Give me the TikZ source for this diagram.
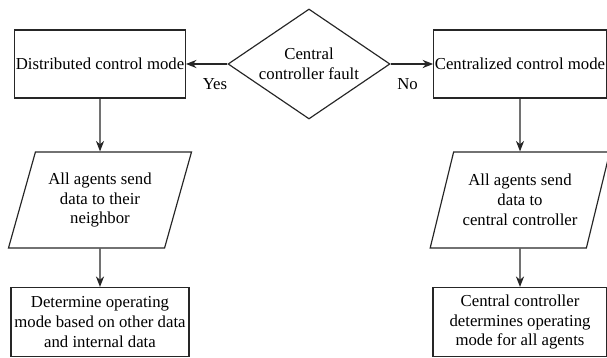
\documentclass[tikz,border=0pt]{standalone}
\usepackage{fontspec}
\setmainfont{Liberation Serif}
\usetikzlibrary{shapes.geometric,arrows.meta}
\begin{document}
\begin{tikzpicture}[
  font=\fontsize{14.3}{17}\selectfont,
  modebox/.style={rectangle, draw=black!85, line width=1pt, minimum width=5.1cm, minimum height=2.04cm, inner sep=1pt, align=center},
  databox/.style={trapezium, draw=black!85, line width=1pt, trapezium left angle=69, trapezium right angle=111, trapezium stretches=true, minimum width=5.5cm, minimum height=2.88cm, inner sep=1pt, align=center},
  faultbox/.style={diamond, draw=black!85, line width=1pt, aspect=1.47, minimum width=4.86cm, minimum height=3.3cm, inner sep=0pt, align=center},
  flow/.style={draw=black!85, line width=1pt, -{Stealth[length=9pt,width=7pt]}},
  ]
 \useasboundingbox (0,0) rectangle (18.21,10.74);
 \node [faultbox] (fault) at (9.27,8.82) {Central\\controller fault};
 \node [modebox] (dist) at (3.0,8.82) {Distributed control mode};
 \node [modebox, minimum width=5.13cm] (cent) at (15.6,8.82) {Centralized control mode};
 \node [databox] (sendnb) at (3.0,4.74) {All agents send\\data to their\\neighbor};
 \node [databox, minimum width=5.4cm] (sendcc) at (15.6,4.74) {All agents send\\data to\\central controller};
 \node [modebox, minimum width=5.34cm, minimum height=2.07cm] (opdist) at (3.0,1.08) {Determine operating\\mode based on other data\\and internal data};
 \node [modebox, minimum width=5.22cm, minimum height=2.07cm] (opcent) at (15.6,1.08) {Central controller\\determines operating\\mode for all agents};
 \draw [flow] (fault.west) -- node[below=0.3cm, pos=0.3] {Yes} (dist.east);
 \draw [flow] (fault.east) -- node[below=0.3cm, pos=0.4] {No} (cent.west);
 \draw [flow] (dist) -- (sendnb);
 \draw [flow] (cent) -- (sendcc);
 \draw [flow] (sendnb) -- (opdist);
 \draw [flow] (sendcc) -- (opcent);
\end{tikzpicture}
\end{document}
